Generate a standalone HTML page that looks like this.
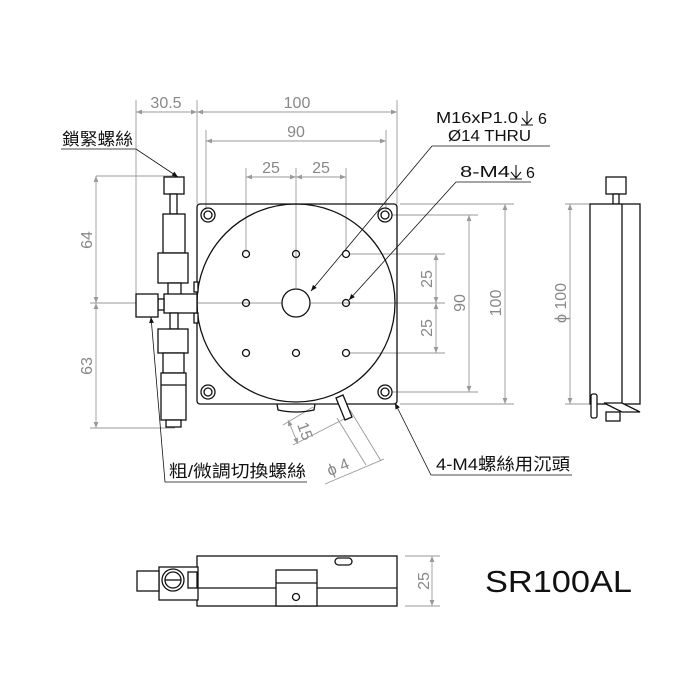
<!DOCTYPE html>
<html><head><meta charset="utf-8"><style>
html,body{margin:0;padding:0;background:#fff;}
svg{display:block;}
.k{stroke:#111;fill:none;stroke-width:1.3}
.kf{stroke:#111;fill:#fff;stroke-width:1.3}
.g{stroke:#999;fill:none;stroke-width:0.9}
.d{font-family:"Liberation Sans",sans-serif;font-size:16px;fill:#888;}
.t{font-family:"Liberation Sans","Noto Sans CJK TC",sans-serif;font-size:16px;fill:#111;}
.c{font-family:"Liberation Sans","Noto Sans CJK TC",sans-serif;font-size:17px;fill:#111;}
.ld{stroke:#111;stroke-width:0.8;fill:none}
</style></head><body>
<svg width="700" height="700" viewBox="0 0 700 700" xmlns="http://www.w3.org/2000/svg">
<defs>
<marker id="a" viewBox="0 0 10 10" refX="10" refY="5" markerWidth="9" markerHeight="6" orient="auto-start-reverse" markerUnits="userSpaceOnUse"><path d="M0,1 L10,5 L0,9 z" fill="#999"/></marker>
<marker id="b" viewBox="0 0 10 10" refX="10" refY="5" markerWidth="9" markerHeight="6" orient="auto" markerUnits="userSpaceOnUse"><path d="M0,1 L10,5 L0,9 z" fill="#111"/></marker>
</defs>

<g class="g">
<line x1="136" y1="100" x2="136" y2="294"/>
<line x1="197" y1="100" x2="197" y2="204"/>
<line x1="397" y1="100" x2="397" y2="204"/>
<line x1="206" y1="130" x2="206" y2="210"/>
<line x1="386" y1="130" x2="386" y2="210"/>
<line x1="246" y1="168" x2="246" y2="250"/>
<line x1="296" y1="168" x2="296" y2="288"/>
<line x1="346" y1="168" x2="346" y2="250"/>
<line x1="96" y1="176" x2="175" y2="176"/>
<line x1="90" y1="303" x2="282" y2="303"/>
<line x1="311" y1="303" x2="445" y2="303"/>
<line x1="90" y1="428" x2="175" y2="428"/>
<line x1="350" y1="254" x2="445" y2="254"/>
<line x1="350" y1="353" x2="445" y2="353"/>
<line x1="392" y1="215" x2="478" y2="215"/>
<line x1="392" y1="392" x2="478" y2="392"/>
<line x1="400" y1="204" x2="514" y2="204"/>
<line x1="400" y1="404" x2="514" y2="404"/>
<line x1="565" y1="204" x2="590" y2="204"/>
<line x1="565" y1="404" x2="590" y2="404"/>
<line x1="405" y1="556" x2="440" y2="556"/>
<line x1="405" y1="606" x2="440" y2="606"/>
<line x1="136" y1="112" x2="197" y2="112" marker-start="url(#a)" marker-end="url(#a)"/>
<line x1="197" y1="112" x2="397" y2="112" marker-start="url(#a)" marker-end="url(#a)"/>
<line x1="206" y1="141" x2="386" y2="141" marker-start="url(#a)" marker-end="url(#a)"/>
<line x1="246" y1="177" x2="296" y2="177" marker-start="url(#a)" marker-end="url(#a)"/>
<line x1="296" y1="177" x2="346" y2="177" marker-start="url(#a)" marker-end="url(#a)"/>
<line x1="96" y1="176" x2="96" y2="303" marker-start="url(#a)" marker-end="url(#a)"/>
<line x1="96" y1="303" x2="96" y2="428" marker-start="url(#a)" marker-end="url(#a)"/>
<line x1="436" y1="254" x2="436" y2="303" marker-start="url(#a)" marker-end="url(#a)"/>
<line x1="436" y1="303" x2="436" y2="353" marker-start="url(#a)" marker-end="url(#a)"/>
<line x1="469" y1="215" x2="469" y2="392" marker-start="url(#a)" marker-end="url(#a)"/>
<line x1="505" y1="204" x2="505" y2="404" marker-start="url(#a)" marker-end="url(#a)"/>
<line x1="570" y1="204" x2="570" y2="404" marker-start="url(#a)" marker-end="url(#a)"/>
<line x1="432" y1="556" x2="432" y2="606" marker-start="url(#a)" marker-end="url(#a)"/>
<line x1="313" y1="407" x2="283" y2="425"/>
<line x1="346" y1="418" x2="293" y2="445"/>
<line x1="288" y1="420" x2="298" y2="444" marker-start="url(#a)" marker-end="url(#a)"/>
<line x1="337" y1="418" x2="366" y2="465"/>
<line x1="350" y1="410" x2="381" y2="461"/>
<line x1="325" y1="484" x2="384" y2="459"/>
</g>

<text class="d" x="166" y="108" text-anchor="middle">30.5</text>
<text class="d" x="297" y="108" text-anchor="middle">100</text>
<text class="d" x="296" y="137" text-anchor="middle">90</text>
<text class="d" x="271" y="173" text-anchor="middle">25</text>
<text class="d" x="321" y="173" text-anchor="middle">25</text>
<text class="d" transform="translate(92,240) rotate(-90)" text-anchor="middle">64</text>
<text class="d" transform="translate(92,366) rotate(-90)" text-anchor="middle">63</text>
<text class="d" transform="translate(432,279) rotate(-90)" text-anchor="middle">25</text>
<text class="d" transform="translate(432,328) rotate(-90)" text-anchor="middle">25</text>
<text class="d" transform="translate(465,303) rotate(-90)" text-anchor="middle">90</text>
<text class="d" transform="translate(501,303) rotate(-90)" text-anchor="middle">100</text>
<text class="d" transform="translate(566,303) rotate(-90)" text-anchor="middle">ϕ 100</text>
<text class="d" transform="translate(429,581) rotate(-90)" text-anchor="middle">25</text>
<text class="d" transform="translate(300,433) rotate(70)" text-anchor="middle">15</text>
<text class="d" transform="translate(340,472) rotate(-22)" text-anchor="middle">ϕ 4</text>

<rect class="k" x="197" y="204" width="200" height="200" rx="3"/>
<circle class="k" cx="296" cy="303" r="99" stroke-width="1.8"/>
<circle class="k" cx="296" cy="303" r="14" stroke-width="1.8"/>
<g class="k">
<circle cx="246" cy="254" r="3.5"/><circle cx="296" cy="254" r="3.5"/><circle cx="346" cy="254" r="3.5"/>
<circle cx="246" cy="303" r="3.5"/><circle cx="346" cy="303" r="3.5"/>
<circle cx="246" cy="353" r="3.5"/><circle cx="296" cy="353" r="3.5"/><circle cx="346" cy="353" r="3.5"/>
<circle cx="208" cy="215" r="7"/><circle cx="208" cy="215" r="4"/>
<circle cx="385" cy="215" r="7"/><circle cx="385" cy="215" r="4"/>
<circle cx="208" cy="392" r="7"/><circle cx="208" cy="392" r="4"/>
<circle cx="385" cy="392" r="7"/><circle cx="385" cy="392" r="4"/>
</g>
<path class="k" d="M277,404 L278,410 Q296,414 314,410 L315,404"/>
<path class="kf" d="M336,398 L343,395 L352,417 L345,420 Z"/>
<rect class="kf" x="194" y="282" width="4" height="10"/>
<rect class="kf" x="194" y="313" width="4" height="10"/>

<g class="kf">
<rect x="164" y="177" width="20" height="17"/>
<rect x="170" y="194" width="7" height="20"/>
<rect x="163" y="214" width="22" height="39"/>
<rect x="158" y="253" width="30" height="30"/>
<rect x="168" y="283" width="13" height="12"/>
<rect x="164" y="294" width="33" height="19"/>
<rect x="158" y="299" width="6" height="11"/>
<rect x="136" y="294" width="22" height="23"/>
<rect x="170" y="313" width="8" height="16"/>
<rect x="158" y="329" width="30" height="24"/>
<rect x="163" y="353" width="21" height="20"/>
<rect x="161" y="373" width="25" height="47"/>
<rect x="166" y="420" width="15" height="7"/>
</g>
<line class="k" x1="161" y1="385" x2="186" y2="385"/>

<g class="kf">
<rect x="606" y="177" width="20" height="17"/>
<rect x="613" y="194" width="6" height="10"/>
<rect x="590" y="204" width="50" height="200"/>
</g>
<line class="k" x1="622" y1="204" x2="622" y2="404"/>
<path class="kf" d="M604,403 L622,403 L640,412 L622,412 Z"/>
<rect class="kf" x="591" y="394" width="6" height="24" rx="2"/>
<rect class="kf" x="606" y="412" width="14" height="9"/>

<rect class="kf" x="197" y="556" width="200" height="50"/>
<line class="k" x1="197" y1="588" x2="397" y2="588"/>
<rect class="kf" x="276" y="570" width="41" height="36"/>
<line class="k" x1="276" y1="583" x2="317" y2="583"/>
<circle class="k" cx="296" cy="597" r="3.5"/>
<rect class="kf" x="335" y="558" width="17" height="7" rx="3.5"/>
<rect class="kf" x="159" y="567" width="39" height="33"/>
<rect class="kf" x="137" y="571" width="22" height="20"/>
<circle class="k" cx="173" cy="580" r="11"/>
<circle class="k" cx="173" cy="580" r="8"/>
<line class="k" x1="165" y1="580" x2="181" y2="580"/>
<rect class="kf" x="188" y="572" width="9" height="16"/>

<text x="485" y="592" textLength="147" lengthAdjust="spacingAndGlyphs" style="font-family:'Liberation Sans',sans-serif;font-size:31px;fill:#111">SR100AL</text>

<text class="c" x="62" y="145" textLength="71" lengthAdjust="spacingAndGlyphs">鎖緊螺絲</text>
<polyline class="ld" points="61,149 136,149 178,177" marker-end="url(#b)"/>

<text class="t" x="436" y="123" textLength="82" lengthAdjust="spacingAndGlyphs">M16xP1.0</text>
<path d="M527,111 V124 M522,118 L527,124 L532,118 M521,125 H533" stroke="#111" stroke-width="1.1" fill="none"/>
<text x="538" y="124" style="font-family:'Liberation Sans',sans-serif;font-size:16px;fill:#111">6</text>
<text class="t" x="448" y="141" textLength="83" lengthAdjust="spacingAndGlyphs">Ø14 THRU</text>
<polyline class="ld" points="550,146 432,146 311,291" marker-end="url(#b)"/>

<text class="t" x="460" y="177" textLength="50" lengthAdjust="spacingAndGlyphs">8-M4</text>
<path d="M516,165 V178 M511,172 L516,178 L521,172 M510,179 H522" stroke="#111" stroke-width="1.1" fill="none"/>
<text x="526" y="178" style="font-family:'Liberation Sans',sans-serif;font-size:16px;fill:#111">6</text>
<polyline class="ld" points="531,182 456,182 349,300" marker-end="url(#b)"/>

<text class="c" x="169" y="477" textLength="137" lengthAdjust="spacingAndGlyphs">粗/微調切換螺絲</text>
<polyline class="ld" points="307,482 165,482 151,317" marker-end="url(#b)"/>
<text class="c" x="436" y="470" textLength="134" lengthAdjust="spacingAndGlyphs">4-M4螺絲用沉頭</text>
<polyline class="ld" points="572,475 431,475 395,403" marker-end="url(#b)"/>
</svg>
</body></html>
